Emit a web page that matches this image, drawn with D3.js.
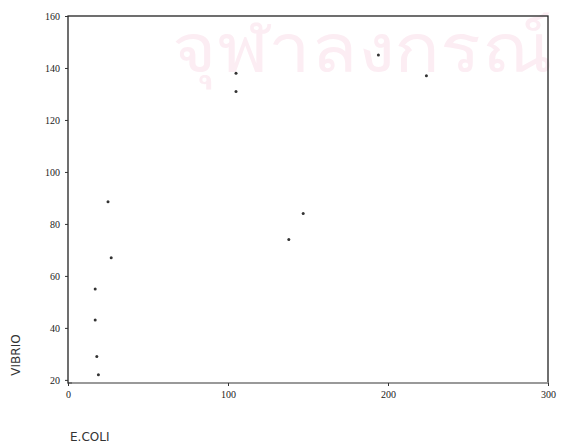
<!DOCTYPE html>
<html><head><meta charset="utf-8">
<script src="https://cdn.jsdelivr.net/npm/d3@7"></script>
<style>body{margin:0;background:#fff;overflow:hidden}svg{display:block}</style>
</head><body>
<script>
const ecoli  = [17, 17, 18, 19, 25, 27, 105, 105, 138, 147, 194, 224];
const vibrio = [55, 43, 29, 22, 88.5, 67, 138, 131, 74, 84, 145, 137];
const xTicks = [0, 100, 200, 300];
const yTicks = [20, 40, 60, 80, 100, 120, 140, 160];
const xLabel = "E.COLI";
const yLabel = "VIBRIO";
const watermark = "จุฬาลงกรณ์";

const W = 562, H = 445;
const m = {left: 68, top: 16, right: 14, bottom: 62};
const svg = d3.select("body").append("svg").attr("width", W).attr("height", H);

svg.append("text").attr("x", 172).attr("y", 72)
  .attr("font-family", "Noto Sans, DejaVu Sans, sans-serif").attr("font-size", 68)
  .attr("fill", "#fcedf3").attr("textLength", 380).attr("lengthAdjust", "spacingAndGlyphs")
  .text(watermark);

const x = d3.scaleLinear().domain([0, 300]).range([m.left, W - m.right]);
const y = d3.scaleLinear().domain([18.8, 160]).range([H - m.bottom, m.top]);

const font = "Liberation Serif, Times New Roman, serif";

// frame
svg.append("rect").attr("x", m.left).attr("y", m.top)
  .attr("width", W - m.right - m.left).attr("height", H - m.bottom - m.top)
  .attr("fill", "none").attr("stroke", "#222").attr("stroke-width", 1.3);
svg.append("line").attr("x1", m.left + 4).attr("x2", W - m.right)
  .attr("y1", H - m.bottom).attr("y2", H - m.bottom).attr("stroke", "#999").attr("stroke-width", 2);

const xa = svg.append("g").attr("transform", `translate(0,${H - m.bottom})`)
  .call(d3.axisBottom(x).tickValues(xTicks).tickSize(3).tickPadding(5));
xa.select(".domain").remove();
xa.selectAll("text").attr("font-family", font).attr("font-size", 10).attr("fill", "#222");
xa.selectAll("line").attr("stroke", "#333");

const ya = svg.append("g").attr("transform", `translate(${m.left},0)`)
  .call(d3.axisLeft(y).tickValues(yTicks).tickSize(3).tickPadding(5));
ya.select(".domain").remove();
ya.selectAll("text").attr("font-family", font).attr("font-size", 10).attr("fill", "#222");
ya.selectAll("line").attr("stroke", "#333");

svg.append("g").selectAll("circle").data(ecoli).join("circle")
  .attr("cx", (d) => x(d)).attr("cy", (d, i) => y(vibrio[i]))
  .attr("r", 1.5).attr("fill", "#333");

svg.append("text").attr("x", 70).attr("y", 441)
  .attr("font-family", "DejaVu Sans, sans-serif").attr("font-size", 12).attr("fill", "#333").text(xLabel);
svg.append("text").attr("transform", "translate(20,355) rotate(-90)")
  .attr("text-anchor", "middle")
  .attr("font-family", "DejaVu Sans, sans-serif").attr("font-size", 12).attr("fill", "#333").text(yLabel);
</script>
</body></html>
